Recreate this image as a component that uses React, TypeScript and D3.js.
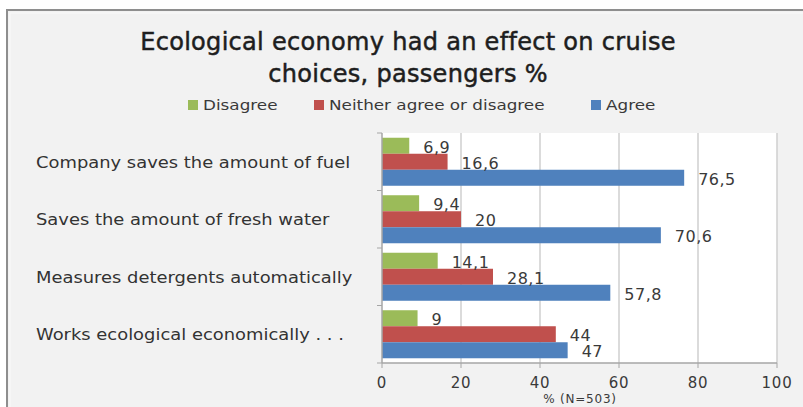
import React from "react";
import * as d3 from "d3";

const categories = [
  "Company saves the amount of fuel",
  "Saves the amount of fresh water",
  "Measures detergents automatically",
  "Works ecological economically  . . .",
];
const seriesNames = ["Disagree", "Neither agree or disagree", "Agree"];
const disagree = [6.9, 9.4, 14.1, 9];
const neither = [16.6, 20, 28.1, 44];
const agree = [76.5, 70.6, 57.8, 47];
const xTicks = [0, 20, 40, 60, 80, 100];
const titleLines = ["Ecological economy had an effect on cruise", "choices, passengers %"];
const xTitle = "% (N=503)";

const colors = ["#9BBB59", "#C0504D", "#4F81BD"];
const seriesValues = [disagree, neither, agree];

const W = 803;
const H = 407;
const plot = { left: 382, right: 777, top: 133, bottom: 363 };
const FONT = "'DejaVu Sans', sans-serif";

export default function App() {
  const x = d3.scaleLinear().domain([0, 100]).range([plot.left, plot.right]);
  const y = d3
    .scaleBand<string>()
    .domain(categories)
    .range([plot.top, plot.bottom])
    .paddingInner(0.165)
    .paddingOuter(0.0825);
  const inner = d3
    .scaleBand<string>()
    .domain(seriesNames)
    .range([0, y.bandwidth()]);
  const step = (plot.bottom - plot.top) / categories.length;
  const boundaries = d3.range(categories.length + 1).map((i) => plot.top + i * step);
  const fmt = (v: number) => String(v).replace(".", ",");

  const legendX = [188, 314, 591];

  return (
    <svg
      width={W}
      height={H}
      style={{ position: "absolute", left: 0, top: 0, display: "block" }}
    >
      <rect x={0} y={0} width={W} height={H} fill="#ffffff" />
      <rect x={7} y={10} width={W + 20} height={H + 20} fill="#f2f2f2" stroke="#8e8e8e" strokeWidth={2} />
      <rect x={10} y={13} width={W + 20} height={H + 20} fill="none" stroke="#fafafa" strokeWidth={1} />

      {titleLines.map((t, i) => (
        <text
          key={t}
          x={408}
          y={50 + i * 32}
          textAnchor="middle"
          fontFamily={FONT}
          fontSize={24}
          letterSpacing={0.3}
          fill="#1e1e1e"
          stroke="#1e1e1e"
          strokeWidth={0.5}
        >
          {t}
        </text>
      ))}

      {seriesNames.map((s, i) => (
        <g key={s}>
          <rect x={legendX[i]} y={100} width={10} height={10} fill={colors[i]} />
          <text
            transform={`translate(${legendX[i] + 15},110) scale(1.2,1)`}
            fontFamily={FONT}
            fontSize={14}
            fill="#3a3a3a"
          >
            {s}
          </text>
        </g>
      ))}

      <rect
        x={plot.left}
        y={plot.top}
        width={plot.right - plot.left}
        height={plot.bottom - plot.top}
        fill="#ffffff"
      />
      {xTicks.slice(1).map((t) => (
        <line key={t} x1={x(t)} x2={x(t)} y1={plot.top} y2={plot.bottom} stroke="#cfcfcf" strokeWidth={1.5} />
      ))}

      {categories.map((c, ci) =>
        seriesNames.map((s, si) => (
          <rect
            key={c + s}
            x={x(0)}
            y={(y(c) as number) + (inner(s) as number)}
            width={x(seriesValues[si][ci]) - x(0)}
            height={inner.bandwidth()}
            fill={colors[si]}
          />
        ))
      )}

      {categories.map((c, ci) =>
        seriesNames.map((s, si) => (
          <text
            key={"l" + c + s}
            x={x(seriesValues[si][ci]) + 14}
            y={(y(c) as number) + (inner(s) as number) + inner.bandwidth() / 2 + 7}
            fontFamily={FONT}
            fontSize={16}
            letterSpacing={0.5}
            fill="#3a3a3a"
          >
            {fmt(seriesValues[si][ci])}
          </text>
        ))
      )}

      <line x1={plot.left} x2={plot.left} y1={plot.top} y2={plot.bottom} stroke="#a6a6a6" strokeWidth={1.5} />
      <line x1={plot.left} x2={plot.right} y1={plot.bottom} y2={plot.bottom} stroke="#a6a6a6" strokeWidth={1.5} />
      {boundaries.map((b, i) => (
        <line key={"yt" + i} x1={plot.left - 5} x2={plot.left} y1={b} y2={b} stroke="#a6a6a6" strokeWidth={1} />
      ))}
      {xTicks.map((t) => (
        <g key={"xt" + t}>
          <line x1={x(t)} x2={x(t)} y1={plot.bottom} y2={plot.bottom + 5} stroke="#a6a6a6" strokeWidth={1} />
          <text
            x={x(t)}
            y={388}
            textAnchor="middle"
            fontFamily={FONT}
            fontSize={15}
            letterSpacing={0.8}
            fill="#3a3a3a"
          >
            {t}
          </text>
        </g>
      ))}

      {categories.map((c) => (
        <text
          key={"c" + c}
          transform={`translate(36,${(y(c) as number) + y.bandwidth() / 2 + 6}) scale(1.12,1)`}
          fontFamily={FONT}
          fontSize={16}
          fill="#333333"
        >
          {c}
        </text>
      ))}

      <text
        x={580}
        y={403}
        textAnchor="middle"
        fontFamily={FONT}
        fontSize={12}
        letterSpacing={0.8}
        fill="#3a3a3a"
      >
        {xTitle}
      </text>
    </svg>
  );
}
